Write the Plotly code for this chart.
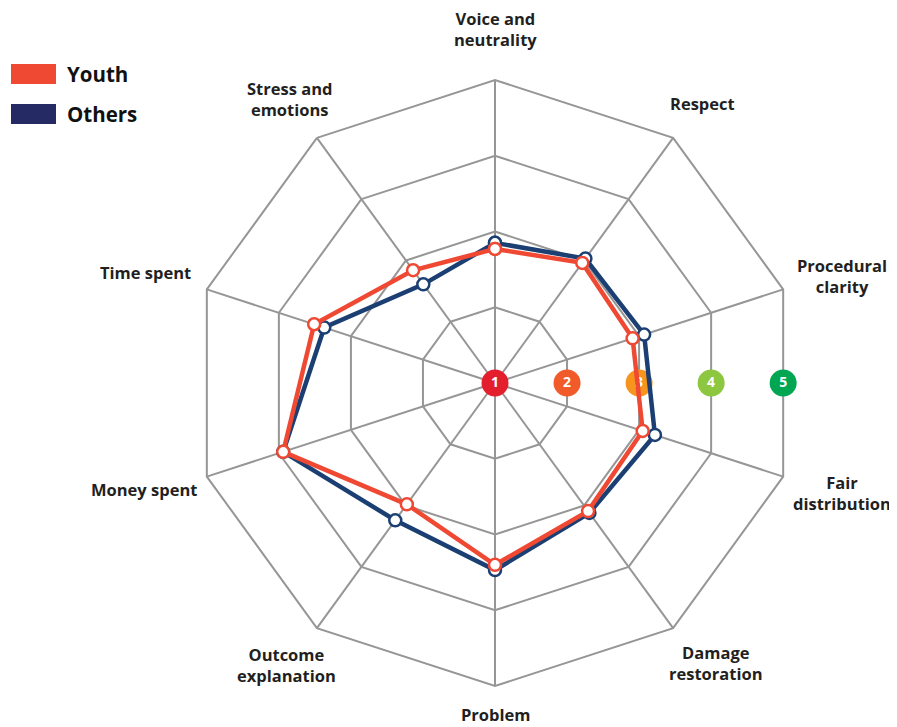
import math
import plotly.graph_objects as go

# ---- data ----
categories = ["Voice and neutrality", "Respect", "Procedural clarity", "Fair distribution",
              "Damage restoration", "Problem", "Outcome explanation", "Money spent",
              "Time spent", "Stress and emotions"]
category_labels = ["Voice and<br>neutrality", "Respect", "Procedural<br>clarity", "Fair<br>distribution",
                   "Damage<br>restoration", "Problem", "Outcome<br>explanation", "Money spent",
                   "Time spent", "Stress and<br>emotions"]
youth = [2.77, 2.96, 2.91, 3.05, 3.09, 3.40, 2.98, 3.94, 3.51, 2.84]
others = [2.85, 3.03, 3.07, 3.22, 3.12, 3.47, 3.24, 3.94, 3.37, 2.61]
scale_ticks = [1, 2, 3, 4, 5]
scale_colors = ["#e31e2d", "#f15a29", "#f7941d", "#8dc63f", "#00a651"]

# ---- style / layout ----
PAGE_W, PAGE_H = 897, 727
OFF = 8  # default page body margin
W, H = PAGE_W - OFF, PAGE_H - OFF
CX, CY, R = 495 - OFF, 383 - OFF, 303
YOUTH_C = "#ef4934"
OTHERS_C = "#1c3f73"
GRID_C = "#969696"
FONT = "Open Sans"
label_xy = [(495, 29), (702, 103), (842, 276), (842, 493), (716, 663),
            (496, 714), (286, 665), (144, 489), (145, 272), (289, 99)]

n = len(categories)
theta_deg = [i * 360 / n for i in range(n)]

fig = go.Figure()

# polar 1: grid + categories
fig.add_trace(go.Scatterpolar(r=[1] * n, theta=categories, mode="lines",
                              line=dict(color="rgba(0,0,0,0)"), hoverinfo="skip",
                              showlegend=False, subplot="polar"))

# polar 2: scale markers and data
half = math.cos(math.pi / n)
fig.add_trace(go.Scatterpolar(
    r=[1 + (k - 1) * half for k in scale_ticks], theta=[90] * len(scale_ticks),
    mode="markers+text", text=[str(k) for k in scale_ticks],
    textposition="middle center",
    textfont=dict(color="white", size=14, family=FONT, weight="bold"),
    marker=dict(size=27, color=scale_colors, line=dict(width=0)),
    hoverinfo="skip", showlegend=False, subplot="polar2", cliponaxis=False))

for name, vals, col in [("Others", others, OTHERS_C), ("Youth", youth, YOUTH_C)]:
    fig.add_trace(go.Scatterpolar(
        r=vals + vals[:1], theta=theta_deg + theta_deg[:1], mode="lines+markers",
        name=name, line=dict(color=col, width=4.5),
        marker=dict(size=12, color="white", line=dict(color=col, width=2.5)),
        showlegend=False, subplot="polar2", cliponaxis=False))

dom_x = [(CX - R) / W, (CX + R) / W]
dom_y = [1 - (CY + R) / H, 1 - (CY - R) / H]

fig.update_layout(
    width=W, height=H, margin=dict(l=0, r=0, t=0, b=0),
    paper_bgcolor="white", plot_bgcolor="white",
    font=dict(family=FONT, color="#231f20"),
    polar=dict(
        domain=dict(x=dom_x, y=dom_y), bgcolor="white", gridshape="linear",
        radialaxis=dict(range=[1, 5], tickvals=[2, 3, 4, 5], showticklabels=False,
                        ticks="", showline=False, gridcolor=GRID_C, gridwidth=2),
        angularaxis=dict(rotation=90, direction="clockwise", showticklabels=False,
                         ticks="", showline=True, linecolor=GRID_C, linewidth=2,
                         gridcolor=GRID_C, gridwidth=2),
    ),
    polar2=dict(
        domain=dict(x=dom_x, y=dom_y), bgcolor="rgba(0,0,0,0)",
        radialaxis=dict(range=[1, 5], visible=False),
        angularaxis=dict(rotation=90, direction="clockwise", visible=False, thetaunit="degrees"),
    ),
)

annotations = []
for lab, (px, py) in zip(category_labels, label_xy):
    annotations.append(dict(x=(px - OFF) / W, y=1 - (py - OFF) / H, xref="paper", yref="paper",
                            text=lab, showarrow=False, xanchor="center", yanchor="middle",
                            align="center",
                            font=dict(family=FONT, size=16.5, color="#231f20", weight="bold")))

# legend (swatches + labels)
legend_items = [("Youth", YOUTH_C, 74), ("Others", "#262a64", 114)]
shapes = []
for name, col, yc in legend_items:
    yc -= OFF
    shapes.append(dict(type="rect", xref="paper", yref="paper",
                       x0=(11 - OFF) / W, x1=(56 - OFF) / W, y0=1 - (yc + 10) / H, y1=1 - (yc - 10) / H,
                       fillcolor=col, line=dict(width=0)))
    annotations.append(dict(x=(65 - OFF) / W, y=1 - yc / H, xref="paper", yref="paper", text=name,
                            showarrow=False, xanchor="left", yanchor="middle",
                            font=dict(family=FONT, size=20.5, color="#111111", weight="bold")))

fig.update_layout(annotations=annotations, shapes=shapes)
fig.write_html("out.html")
